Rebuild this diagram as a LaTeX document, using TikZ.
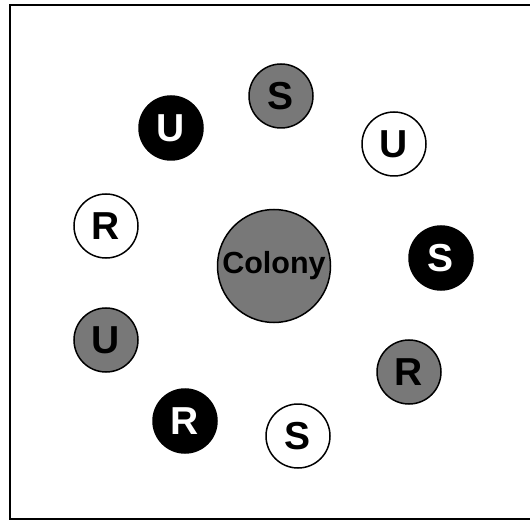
\documentclass[tikz,border=0pt]{standalone}
\usepackage{fontspec}
\setmainfont{Liberation Sans}
\definecolor{mygray}{RGB}{120,120,120}
\begin{document}
\begin{tikzpicture}[x=1pt,y=-1pt,
  ball/.style={circle,draw=black,line width=1.5pt,minimum size=64pt,inner sep=0pt,font=\fontsize{39}{39}\selectfont\bfseries},
  wball/.style={ball,fill=white,text=black},
  gball/.style={ball,fill=mygray,text=black},
  kball/.style={ball,fill=black,text=white}]
\useasboundingbox (0,0) rectangle (530,521);
\fill[white] (0,0) rectangle (530,521);
\draw[line width=2.5pt] (531,5) -- (10,5) -- (10,519) -- (531,519);
\node[gball,minimum size=113pt,font=\fontsize{30.5}{30.5}\selectfont\bfseries] (colony) at (274,266) {Colony};
\node[gball] (s1) at (281,96) {S};
\node[kball] (u1) at (171,128) {U};
\node[wball] (u2) at (394,144) {U};
\node[wball] (r1) at (106,226) {R};
\node[kball] (s2) at (441,258) {S};
\node[gball] (u3) at (106,340) {U};
\node[gball] (r2) at (409,372) {R};
\node[kball] (r3) at (185,421) {R};
\node[wball] (s3) at (298,436) {S};
\end{tikzpicture}
\end{document}
